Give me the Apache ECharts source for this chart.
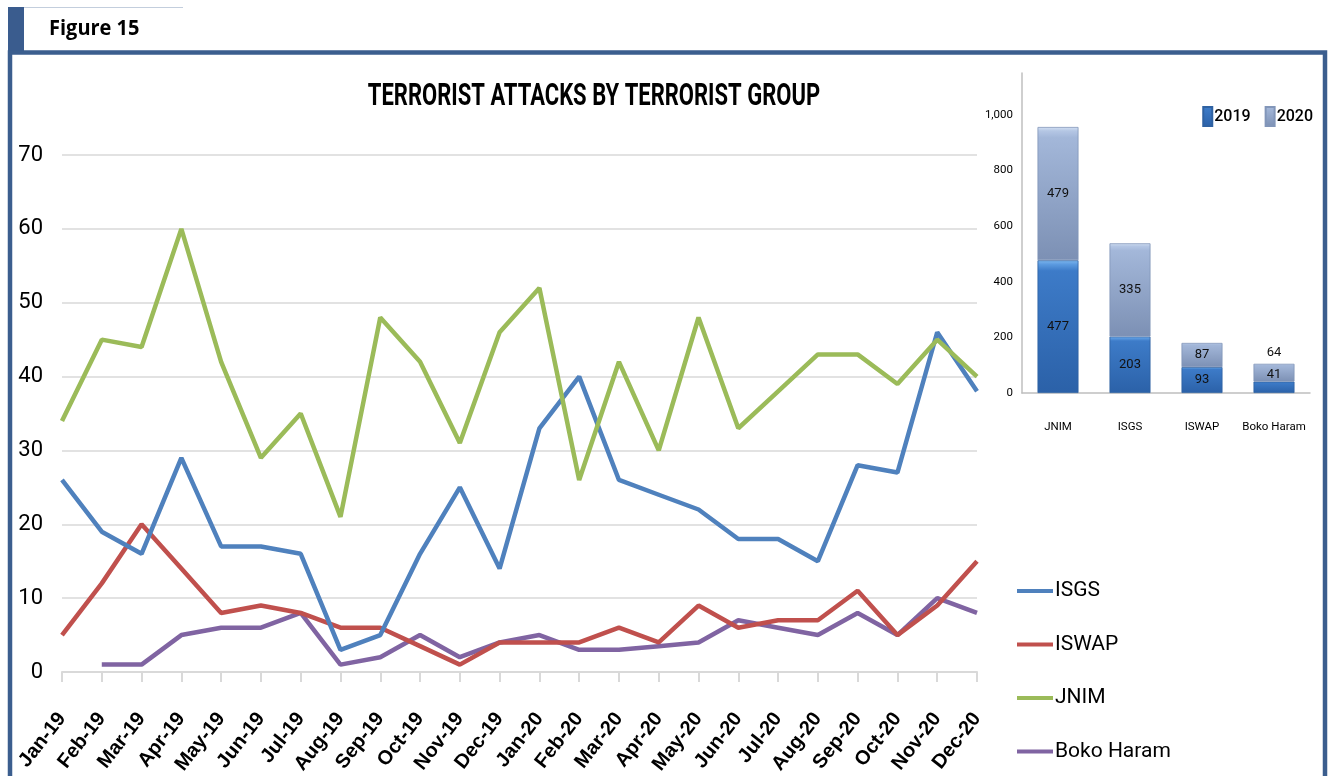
<!DOCTYPE html>
<html>
<head>
<meta charset="utf-8">
<script src="https://cdn.jsdelivr.net/npm/echarts@6/dist/echarts.min.js"></script>
<style>
html,body{margin:0;padding:0;background:#fff;}
#chart{width:1330px;height:776px;}
</style>
</head>
<body>
<div id="chart"></div>
<script>
// ---- Data ----
const months = ['Jan-19','Feb-19','Mar-19','Apr-19','May-19','Jun-19','Jul-19','Aug-19','Sep-19','Oct-19','Nov-19','Dec-19',
                'Jan-20','Feb-20','Mar-20','Apr-20','May-20','Jun-20','Jul-20','Aug-20','Sep-20','Oct-20','Nov-20','Dec-20'];
const isgs  = [26,19,16,29,17,17,16,3,5,16,25,14, 33,40,26,24,22,18,18,15,28,27,46,38];
const iswap = [5,12,20,14,8,9,8,6,6,3.5,1,4, 4,4,6,4,9,6,7,7,11,5,9,15];
const jnim  = [34,45,44,60,42,29,35,21,48,42,31,46, 52,26,42,30,48,33,38,43,43,39,45,40];
const boko  = [null,1,1,5,6,6,8,1,2,5,2,4, 5,3,3,3.5,4,7,6,5,8,5,10,8];

const groups = ['JNIM','ISGS','ISWAP','Boko Haram'];
const total2019 = [477,203,93,41];
const total2020 = [479,335,87,64];

const yTicksMain = [0,70,10];      // min, max, interval
const yTicksInset = [0,1150,200];

// ---- Styles ----
const FONT = "Roboto,'Liberation Sans',sans-serif";
const grey = '#d9d9d9';

const chart = echarts.init(document.getElementById('chart'));

function vgrad(stops){
  return new echarts.graphic.LinearGradient(0,0,0,1,stops.map(s=>({offset:s[0],color:s[1]})));
}

const d2019 = total2019.map((v,i)=> i===3 ? {value:v,label:{offset:[0,-13]}} : v);
const d2020 = total2020.map((v,i)=> i===3 ? {value:v,label:{position:'top',distance:5}} : v);

chart.setOption({
  animation:false,
  backgroundColor:'#fff',
  graphic:[
    {type:'rect', shape:{x:8,y:7,width:16,height:46}, style:{fill:'#3A5C8E'}},
    {type:'line', shape:{x1:24,y1:7.5,x2:183,y2:7.5}, style:{stroke:'#c3cedd',lineWidth:1}},
    {type:'rect', shape:{x:10,y:52.5,width:1315,height:800}, style:{fill:'none',stroke:'#3B5E8E',lineWidth:4.5}},
    {type:'text', x:49, y:29, scaleY:1.1, style:{text:'Figure 15', font:"bold 20px 'Open Sans',sans-serif", fill:'#000', verticalAlign:'middle'}},
    {type:'text', x:594, y:97, scaleY:1.45, style:{text:'TERRORIST ATTACKS BY TERRORIST GROUP', font:"bold 22px "+FONT, fill:'#000', align:'center', verticalAlign:'middle'}}
  ],
  legend:[
    {
      data:['ISGS','ISWAP','JNIM','Boko Haram'],
      orient:'vertical', left:1017, top:578, icon:'rect', itemWidth:36, itemHeight:4,
      itemGap:27.5, padding:0,
      textStyle:{fontFamily:FONT, fontSize:21, color:'#000', lineHeight:26, padding:[0,0,0,-3]}
    },
    {
      data:['2019','2020'],
      right:17, top:106, icon:'rect', itemWidth:9, itemHeight:19, itemGap:14, padding:0,
      textStyle:{fontFamily:FONT, fontSize:16, fontWeight:'500', color:'#000', padding:[0,0,0,-3]}
    }
  ],
  grid:[
    {left:62, right:353, top:155, bottom:104, outerBoundsMode:'none', containLabel:false},
    {left:1022, width:288, top:73, height:320, outerBoundsMode:'none', containLabel:false}
  ],
  xAxis:[
    {
      gridIndex:0, type:'category', data:months, boundaryGap:false,
      axisLine:{lineStyle:{color:grey,width:2}},
      axisTick:{show:true, length:10, lineStyle:{color:grey,width:2}},
      axisLabel:{rotate:52, margin:43, interval:0, color:'#000', fontWeight:'bold', fontSize:20, fontFamily:"'Liberation Sans',sans-serif"}
    },
    {
      gridIndex:1, type:'category', data:groups,
      axisLine:{lineStyle:{color:'#bfbfbf',width:1.5}},
      axisTick:{show:false},
      axisLabel:{margin:28, interval:0, color:'#000', fontSize:11.5, fontFamily:FONT}
    }
  ],
  yAxis:[
    {
      gridIndex:0, type:'value', min:yTicksMain[0], max:yTicksMain[1], interval:yTicksMain[2],
      axisLine:{show:false}, axisTick:{show:false},
      splitLine:{lineStyle:{color:grey,width:1.5}},
      axisLabel:{margin:19, color:'#000', fontSize:22, fontFamily:FONT}
    },
    {
      gridIndex:1, type:'value', min:yTicksInset[0], max:yTicksInset[1], interval:yTicksInset[2],
      axisLine:{show:true, lineStyle:{color:'#bfbfbf',width:1.5}}, axisTick:{show:false},
      splitLine:{show:false},
      axisLabel:{margin:9, color:'#000', fontSize:11.5, fontFamily:FONT, showMaxLabel:false,
        formatter:v=>v.toLocaleString('en-US')}
    }
  ],
  series:[
    {name:'ISGS', type:'line', data:isgs, symbol:'none', lineStyle:{width:4.5,color:'#4F81BD'}, itemStyle:{color:'#4F81BD'}, z:4},
    {name:'ISWAP', type:'line', data:iswap, symbol:'none', lineStyle:{width:4.5,color:'#C0504D'}, itemStyle:{color:'#C0504D'}, z:3},
    {name:'JNIM', type:'line', data:jnim, symbol:'none', lineStyle:{width:4.5,color:'#9BBB59'}, itemStyle:{color:'#9BBB59'}, z:5},
    {name:'Boko Haram', type:'line', data:boko, symbol:'none', lineStyle:{width:4.5,color:'#8064A2'}, itemStyle:{color:'#8064A2'}, z:2},
    {name:'2019', type:'bar', xAxisIndex:1, yAxisIndex:1, stack:'t', data:d2019, barWidth:41,
      itemStyle:{color:vgrad([[0,'#7FB8EE'],[0.03,'#5C9BE0'],[0.08,'#3D7BC8'],[1,'#2B61A8']]), borderColor:'#2F62A2', borderWidth:0.8},
      label:{show:true, position:'inside', color:'#111', fontSize:13, fontFamily:FONT}},
    {name:'2020', type:'bar', xAxisIndex:1, yAxisIndex:1, stack:'t', data:d2020, barWidth:41,
      itemStyle:{color:vgrad([[0,'#D4E1F3'],[0.03,'#B4C6E4'],[0.08,'#A3B7D9'],[1,'#7C90B4']]), borderColor:'#8296B9', borderWidth:0.8},
      label:{show:true, position:'inside', color:'#111', fontSize:13, fontFamily:FONT}}
  ]
});
</script>
</body>
</html>
